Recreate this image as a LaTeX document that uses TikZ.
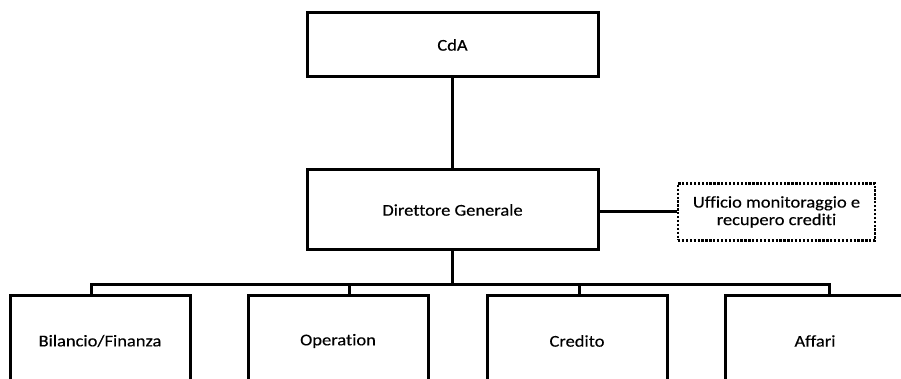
\documentclass[tikz,border=0pt]{standalone}
\usepackage{fontspec}
\setmainfont{Carlito}[FakeStretch=1.12, Ligatures={NoCommon}, FakeBold=0.25]
\usetikzlibrary{calc}
\begin{document}
\begin{tikzpicture}[x=1pt,y=1pt,
  unit/.style={draw=black, line width=3pt, fill=white, minimum width=291pt,
    inner sep=0pt, font=\fontsize{16.5}{18}\selectfont, align=center},
  staff/.style={draw=black, line width=2.3pt, dash pattern=on 2.3pt off 1.6pt,
    minimum width=197pt, minimum height=57pt, inner sep=0pt,
    font=\fontsize{16.5}{17.5}\selectfont, align=center},
  dept/.style={draw=black, line width=3pt, minimum width=180pt, minimum height=90pt,
    inner sep=0pt, font=\fontsize{16.5}{18}\selectfont},
  link/.style={line width=3pt}]
\useasboundingbox (0,0) rectangle (901,379);
\clip (0,0) rectangle (901,379);
\fill[white] (0,0) rectangle (901,379);

% board and general management
\node[unit, minimum height=64pt] (cda) at (452.5,334) {CdA};
\node[unit, minimum height=80pt] (dg) at (452.5,169) {Direttore Generale};
\node[staff] (uff) at (776.5,167) {Ufficio monitoraggio e\\recupero crediti};

% departments
\node[dept] (bil) at (100,38) {Bilancio/Finanza};
\node[dept] (ope) at (338,38) {Operation};
\node[dept] (cre) at (577,38) {Credito};
\node[dept] (aff) at (815,38) {Affari};

% drop points on the department tops and the distribution bus
\coordinate (d1) at ($(bil.north)+(-9,0)$);
\coordinate (d2) at ($(ope.north)+(11,0)$);
\coordinate (d3) at ($(cre.north)+(2,0)$);
\coordinate (d4) at ($(aff.north)+(14,0)$);
\coordinate (bus) at (452.5,94);

\draw[link] (cda.south) -- (dg.north);
\draw[link] (uff.west -| dg.east) -- (uff.west);
\draw[link] (dg.south) -- (bus);
\draw[link] (d1) |- (bus) -| (d4);
\draw[link] (d2) -- (d2 |- bus);
\draw[link] (d3) -- (d3 |- bus);
\end{tikzpicture}
\end{document}
